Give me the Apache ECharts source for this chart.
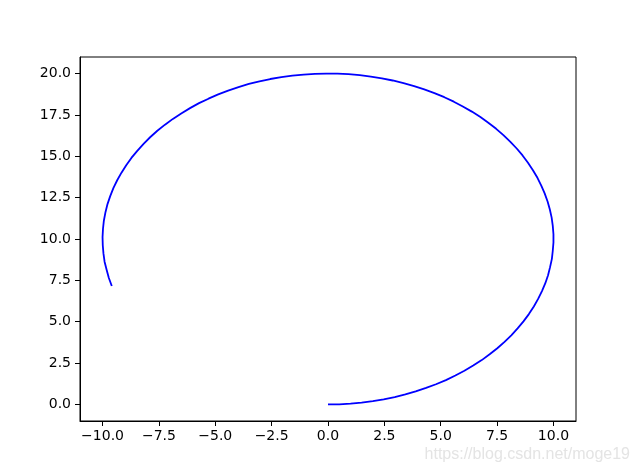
<!DOCTYPE html>
<html><head><meta charset="utf-8">
<script src="https://cdn.jsdelivr.net/npm/echarts@6/dist/echarts.min.js"></script>
<style>html,body{margin:0;padding:0;background:#fff}#c{width:640px;height:473px}</style>
</head><body><div id="c"></div>
<script>
const xs = [0, 0.50, 1.00, 1.49, 1.99, 2.47, 2.96, 3.43, 3.89, 4.35, 4.79, 5.23, 5.65, 6.05, 6.44, 6.82, 7.17, 7.51, 7.83, 8.13, 8.41, 8.67, 8.91, 9.13, 9.32, 9.49, 9.64, 9.76, 9.85, 9.93, 9.97, 10.00, 10.00, 9.97, 9.92, 9.84, 9.74, 9.61, 9.46, 9.29, 9.09, 8.87, 8.63, 8.37, 8.08, 7.78, 7.46, 7.11, 6.76, 6.38, 5.98, 5.58, 5.16, 4.72, 4.27, 3.82, 3.35, 2.87, 2.39, 1.90, 1.41, 0.91, 0.42, -0.08, -0.58, -1.08, -1.58, -2.07, -2.56, -3.04, -3.51, -3.97, -4.43, -4.87, -5.30, -5.72, -6.12, -6.51, -6.88, -7.23, -7.57, -7.89, -8.18, -8.46, -8.72, -8.95, -9.16, -9.35, -9.52, -9.66, -9.78, -9.87, -9.94, -9.98, -10.00, -9.99, -9.96, -9.91, -9.82, -9.72, -9.59];
const ys = [0, 0.01, 0.05, 0.11, 0.20, 0.31, 0.45, 0.61, 0.79, 1.00, 1.22, 1.47, 1.75, 2.04, 2.35, 2.68, 3.03, 3.40, 3.78, 4.18, 4.60, 5.02, 5.46, 5.92, 6.38, 6.85, 7.33, 7.81, 8.30, 8.80, 9.29, 9.79, 10.29, 10.79, 11.29, 11.78, 12.27, 12.76, 13.23, 13.70, 14.16, 14.61, 15.05, 15.47, 15.89, 16.28, 16.66, 17.03, 17.37, 17.70, 18.01, 18.30, 18.57, 18.82, 19.04, 19.24, 19.42, 19.58, 19.71, 19.82, 19.90, 19.96, 19.99, 20.00, 19.98, 19.94, 19.87, 19.78, 19.67, 19.53, 19.37, 19.18, 18.97, 18.74, 18.48, 18.21, 17.91, 17.59, 17.26, 16.91, 16.54, 16.15, 15.75, 15.33, 14.90, 14.46, 14.01, 13.55, 13.07, 12.59, 12.11, 11.62, 11.12, 10.62, 10.12, 9.62, 9.13, 8.63, 8.14, 7.64, 7.16];
const xTicks = [-10, -7.5, -5, -2.5, 0, 2.5, 5, 7.5, 10];
const yTicks = [0, 2.5, 5, 7.5, 10, 12.5, 15, 17.5, 20];

const pts = xs.map((x, i) => [x, ys[i]]);
const fmt = v => (v < 0 ? '\u2212' : '') + Math.abs(v).toFixed(1);
const font = '"DejaVu Sans"';
const chart = echarts.init(document.getElementById('c'), null, {renderer: 'canvas'});
chart.setOption({
  animation: false,
  grid: {left: 80, right: 64, top: 57, bottom: 52, show: true, borderColor: '#000', borderWidth: 1, backgroundColor: '#fff'},
  xAxis: {
    type: 'value', min: -11, max: 11,
    axisLine: {show: true, onZero: false, lineStyle: {color: '#000', width: 1}},
    axisTick: {show: true, length: 5, lineStyle: {color: '#000'}, customValues: xTicks},
    axisLabel: {color: '#000', fontFamily: font, fontSize: 14, margin: 8, customValues: xTicks, formatter: fmt},
    splitLine: {show: false}
  },
  yAxis: {
    type: 'value', min: -1, max: 21,
    axisLine: {show: true, onZero: false, lineStyle: {color: '#000', width: 1}},
    axisTick: {show: true, length: 5, lineStyle: {color: '#000'}, customValues: yTicks},
    axisLabel: {color: '#000', fontFamily: font, fontSize: 14, margin: 9, customValues: yTicks, formatter: fmt},
    splitLine: {show: false}
  },
  series: [{
    type: 'line', data: pts, smooth: false, showSymbol: false, symbol: 'none',
    lineStyle: {color: '#0000ff', width: 1.8, join: 'round'}
  }],
  graphic: [{
    type: 'text', right: 10, bottom: 10,
    style: {text: 'https://blog.csdn.net/moge19', fill: '#e4e4e4', font: '16px "Liberation Sans", Arial, sans-serif'}
  }]
});
</script></body></html>
